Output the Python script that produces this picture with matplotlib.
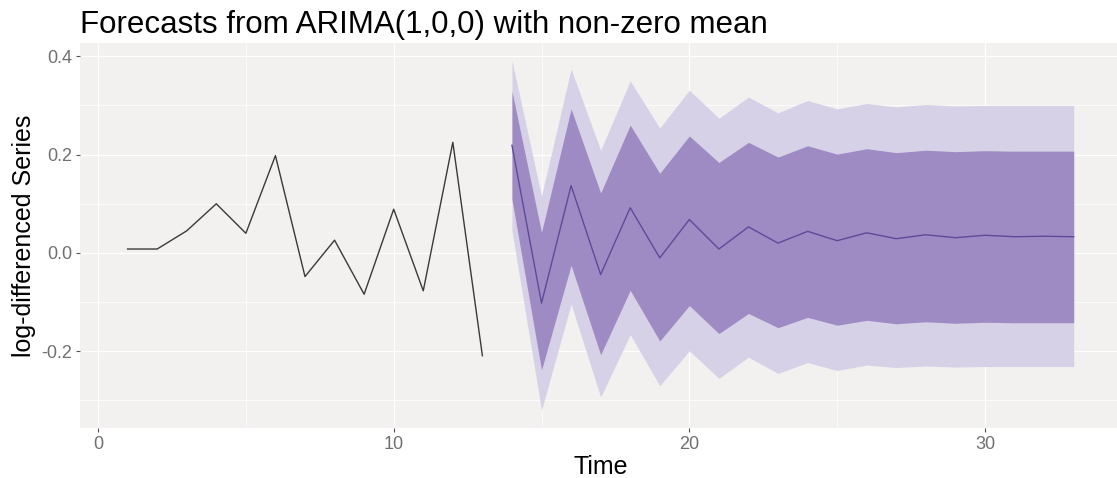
import matplotlib

matplotlib.use("Agg")
import matplotlib.pyplot as plt
from matplotlib.ticker import MultipleLocator

# observed log-differenced series, t = 1..13
obs_time = list(range(1, 14))
obs_values = [0.008, 0.008, 0.045, 0.100, 0.040, 0.198, -0.048, 0.026,
              -0.084, 0.089, -0.077, 0.225, -0.209]

# ARIMA(1,0,0) forecasts, t = 14..33
fc_time = list(range(14, 34))
fc_mean = [0.219, -0.102, 0.137, -0.044, 0.092, -0.010, 0.068, 0.008, 0.053, 0.020,
           0.044, 0.025, 0.041, 0.029, 0.037, 0.031, 0.036, 0.033, 0.034, 0.033]
lo80 = [0.109, -0.238, -0.025, -0.207, -0.076, -0.179, -0.107, -0.164, -0.123, -0.152,
        -0.131, -0.147, -0.137, -0.144, -0.140, -0.143, -0.141, -0.142, -0.142, -0.142]
hi80 = [0.329, 0.042, 0.293, 0.122, 0.260, 0.162, 0.238, 0.184, 0.225, 0.195,
        0.218, 0.201, 0.212, 0.204, 0.209, 0.206, 0.208, 0.207, 0.207, 0.207]
lo95 = [0.045, -0.320, -0.104, -0.293, -0.166, -0.270, -0.199, -0.255, -0.212, -0.245,
        -0.223, -0.239, -0.228, -0.233, -0.230, -0.232, -0.231, -0.231, -0.231, -0.231]
hi95 = [0.391, 0.116, 0.374, 0.209, 0.350, 0.254, 0.331, 0.274, 0.317, 0.285,
        0.310, 0.293, 0.304, 0.297, 0.302, 0.299, 0.300, 0.300, 0.300, 0.300]

plt.rcParams["font.family"] = ["Liberation Sans", "DejaVu Sans"]

fig = plt.figure(figsize=(11.17, 4.78), dpi=100)
ax = fig.add_axes([80.3 / 1117, 1 - 428 / 478, (1121 - 80.3) / 1117, (428 - 43) / 478])
ax.set_facecolor("#F2F1F0")

ax.fill_between(fc_time, lo95, hi95, color="#D7D1E7", linewidth=0, zorder=2)
ax.fill_between(fc_time, lo80, hi80, color="#9F8BC3", linewidth=0, zorder=3)
ax.plot(fc_time, fc_mean, color="#5F4A99", linewidth=1.0, zorder=4)
ax.plot(obs_time, obs_values, color="#3A3A3A", linewidth=1.0, zorder=4)

ax.set_xlim(-0.6, 34.6)
ax.set_ylim(-0.356, 0.427)
ax.xaxis.set_major_locator(MultipleLocator(10))
ax.xaxis.set_minor_locator(MultipleLocator(5))
ax.yaxis.set_major_locator(MultipleLocator(0.2))
ax.yaxis.set_minor_locator(MultipleLocator(0.1))
ax.set_yticks([-0.2, 0.0, 0.2, 0.4])
ax.set_yticklabels(["-0.2", "0.0", "0.2", "0.4"])
ax.grid(which="major", color="white", linewidth=0.9, zorder=1)
ax.grid(which="minor", color="white", linewidth=0.5, zorder=1)
ax.set_axisbelow(True)
for spine in ax.spines.values():
    spine.set_visible(False)
ax.tick_params(which="major", length=3, color="#555555", labelcolor="#707070",
               labelsize=13, pad=3)
ax.tick_params(which="minor", length=0)

ax.set_xlabel("Time", fontsize=18, labelpad=1)
ax.set_ylabel("log-differenced Series", fontsize=18, labelpad=4)
ax.set_title("Forecasts from ARIMA(1,0,0) with non-zero mean", loc="left",
             fontsize=22.5, pad=7)

fig.savefig("out.png", dpi=100, facecolor="white")
